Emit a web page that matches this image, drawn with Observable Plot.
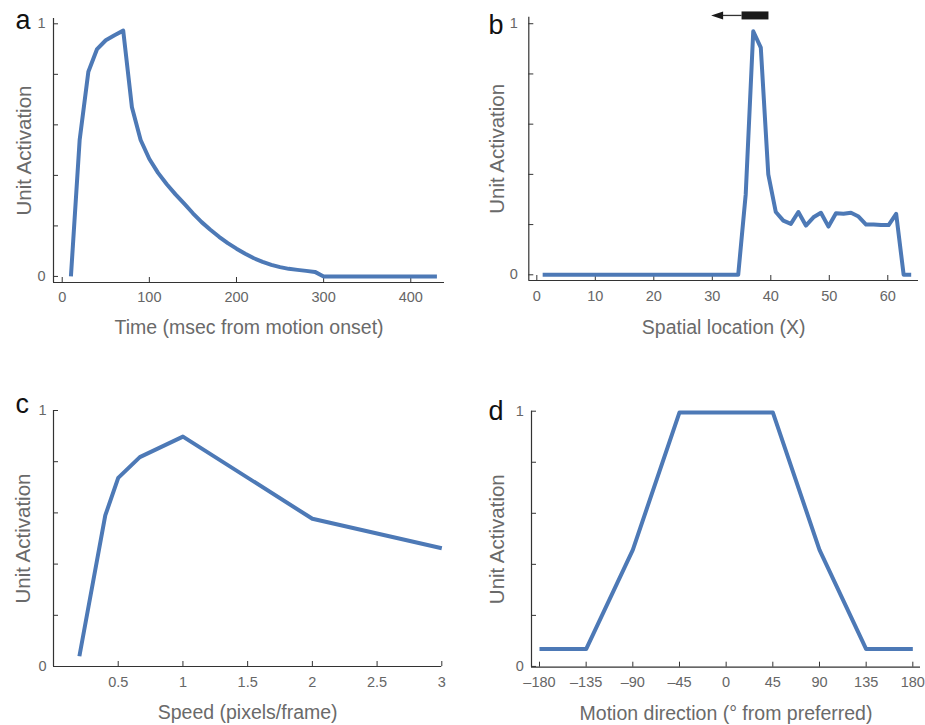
<!DOCTYPE html>
<html><head><meta charset="utf-8">
<script src="https://cdn.jsdelivr.net/npm/d3@7"></script>
<script src="https://cdn.jsdelivr.net/npm/@observablehq/plot@0.6"></script>
<style>
html,body{margin:0;padding:0;background:#fff;}
#fig{position:relative;width:925px;height:725px;overflow:hidden;}
#fig > svg{position:absolute;overflow:visible;}
</style></head><body><div id="fig"></div>
<script>
// ---- Panel a: time course ----
const timeMs = [10,20,30,40,50,60,70,80,90,100,110,120,130,140,150,160,170,180,190,200,210,220,230,240,250,260,270,280,290,300,310,320,330,340,350,360,370,380,390,400,410,420,430];
const timeActivation = [0,0.54,0.81,0.90,0.935,0.955,0.973,0.67,0.54,0.465,0.41,0.365,0.325,0.288,0.25,0.215,0.185,0.157,0.132,0.11,0.09,0.072,0.058,0.046,0.037,0.030,0.026,0.022,0.018,0,0,0,0,0,0,0,0,0,0,0,0,0,0];
const timeTicks = [0,100,200,300,400];

// ---- Panel b: spatial profile ----
const spatialX = [1.00,2.29,3.57,4.86,6.14,7.43,8.71,10.00,11.29,12.57,13.86,15.14,16.43,17.71,19.00,20.29,21.57,22.86,24.14,25.43,26.71,28.00,29.29,30.57,31.86,33.14,34.43,35.71,37.00,38.29,39.57,40.86,42.14,43.43,44.71,46.00,47.29,48.57,49.86,51.14,52.43,53.71,55.00,56.29,57.57,58.86,60.14,61.43,62.71,64.00];
const spatialActivation = [0,0,0,0,0,0,0,0,0,0,0,0,0,0,0,0,0,0,0,0,0,0,0,0,0,0,0,0.32,0.97,0.905,0.40,0.25,0.216,0.203,0.25,0.196,0.229,0.247,0.192,0.245,0.243,0.247,0.232,0.20,0.20,0.198,0.198,0.243,0,0];
const spatialTicks = [0,10,20,30,40,50,60];
const stimulusBar = [35, 39.6];      // moving bar extent (x units)
const stimulusArrowTip = 29.8;       // direction of motion (leftward)

// ---- Panel c: speed tuning ----
const speedValues = [0.2,0.4,0.5,0.667,1,2,3];
const speedActivation = [0.04,0.59,0.737,0.818,0.898,0.577,0.462];
const speedTicks = [0.5,1,1.5,2,2.5,3];

// ---- Panel d: direction tuning ----
const directionDeg = [-180,-135,-90,-45,0,45,90,135,180];
const directionActivation = [0.068,0.068,0.457,0.995,0.995,0.995,0.457,0.068,0.068];
const directionTicks = [-180,-135,-90,-45,0,45,90,135,180];

const activationTicks = [0,0.2,0.4,0.6,0.8,1];

const FONT = '"Helvetica Neue", Helvetica, "Liberation Sans", Arial, sans-serif';
const BLUE = "#4d79b6";
const AXIS = "#333";
const TICK = "#666";
const TITLE = "#6a6a6a";
const LETTER_FS = 27, XL_FS = 19.5, YL_FS = 20.5;

const arrowHead = {
  draw(ctx) { ctx.moveTo(0, 0); ctx.lineTo(12, -4); ctx.lineTo(12, 4); ctx.closePath(); }
};

const fig = document.getElementById("fig");

function panel(c) {
  const [mt, mr, mb, ml] = c.margin;
  const data = c.x.map((d, i) => ({x: d, y: c.y[i]}));
  const svg = Plot.plot({
    width: c.width, height: c.height,
    marginTop: mt, marginRight: mr, marginBottom: mb, marginLeft: ml,
    style: {fontFamily: FONT, fontSize: "14.5px", background: "transparent", overflow: "visible"},
    x: {domain: c.xDomain, axis: null, label: null},
    y: {domain: c.yDomain, axis: null, label: null},
    marks: [
      Plot.ruleX([c.xDomain[0]], {stroke: AXIS, strokeWidth: 1.2}),
      Plot.ruleY([c.yDomain[0]], {stroke: AXIS, strokeWidth: 1.2}),
      Plot.axisX(c.xTicks, {anchor: "bottom", tickSize: -5, tickPadding: 5 + c.xTickGap, tickFormat: c.xFormat, stroke: AXIS, fill: TICK, label: null}),
      Plot.axisY(activationTicks, {anchor: "left", tickSize: -5, tickPadding: 5 + c.yTickGap, tickFormat: d => (d === 0 || d === 1) ? String(d) : "", stroke: AXIS, fill: TICK, label: null}),
      Plot.line(data, {x: "x", y: "y", stroke: BLUE, strokeWidth: 4, strokeLinecap: "butt", strokeLinejoin: "round"}),
      ...(c.extra || []),
      Plot.text([c.letter], {text: d => d, frameAnchor: "top-left", dx: c.letterPos[0] - ml, dy: c.letterPos[1] - mt - 0.32 * LETTER_FS, fontSize: LETTER_FS, fill: "#111", textAnchor: "start", lineAnchor: "middle"}),
      Plot.text([c.xLabel], {text: d => d, frameAnchor: "bottom", dy: c.xLabelBase - 0.32 * XL_FS, fontSize: XL_FS, fill: TITLE, textAnchor: "middle", lineAnchor: "middle"}),
      Plot.text([c.yLabel], {text: d => d, frameAnchor: "left", dx: c.yLabelBase - 0.32 * YL_FS, rotate: -90, fontSize: YL_FS, fill: TITLE, textAnchor: "middle", lineAnchor: "middle"})
    ]
  });
  svg.style.left = c.left + "px";
  svg.style.top = c.top + "px";
  fig.appendChild(svg);
}

const fmtDir = d => d < 0 ? "\u2013" + Math.abs(d) : String(d);

panel({
  left: 0, top: 0, width: 462, height: 345, margin: [18, 18, 63, 53],
  xDomain: [-10, 438.7], yDomain: [-0.024, 1.021],
  xTicks: timeTicks, xFormat: d => String(d),
  x: timeMs, y: timeActivation,
  letter: "a", letterPos: [15, 28.3],
  xLabel: "Time (msec from motion onset)", xLabelBase: 51,
  yLabel: "Unit Activation", yLabelBase: -23,
  xTickGap: 9.5, yTickGap: 8
});

panel({
  left: 460, top: 0, width: 465, height: 345, margin: [16.7, 7, 65, 68.3],
  xDomain: [-1.37, 65.25], yDomain: [-0.0227, 1.026],
  xTicks: spatialTicks, xFormat: d => String(d),
  x: spatialX, y: spatialActivation,
  letter: "b", letterPos: [28, 33.3],
  xLabel: "Spatial location (X)", xLabelBase: 53,
  yLabel: "Unit Activation", yLabelBase: -25,
  xTickGap: 10, yTickGap: 11,
  extra: [
    Plot.link([stimulusBar], {x1: () => stimulusArrowTip + 2, x2: d => d[0], y1: () => 1.033, y2: () => 1.033, stroke: AXIS, strokeWidth: 1.3}),
    Plot.link([stimulusBar], {x1: d => d[0], x2: d => d[1], y1: () => 1.033, y2: () => 1.033, stroke: "#1a1a1a", strokeWidth: 8, strokeLinecap: "butt"}),
    Plot.dot([stimulusArrowTip], {x: d => d, y: () => 1.033, symbol: arrowHead, fill: "#1a1a1a", stroke: "none"})
  ]
});

panel({
  left: 0, top: 380, width: 462, height: 345, margin: [30, 20.7, 59, 53],
  xDomain: [0, 3], yDomain: [0, 1],
  xTicks: speedTicks, xFormat: d => String(d),
  x: speedValues, y: speedActivation,
  letter: "c", letterPos: [15, 32.7],
  xLabel: "Speed (pixels/frame)", xLabelBase: 52,
  yLabel: "Unit Activation", yLabelBase: -24,
  xTickGap: 10.5, yTickGap: 7
});

panel({
  left: 460, top: 380, width: 465, height: 345, margin: [30.7, 5, 58.3, 71],
  xDomain: [-187.7, 187.4], yDomain: [-0.003, 1],
  xTicks: directionTicks, xFormat: fmtDir,
  x: directionDeg, y: directionActivation,
  letter: "d", letterPos: [28, 39.3],
  xLabel: "Motion direction (\u00b0 from preferred)", xLabelBase: 52.3,
  yLabel: "Unit Activation", yLabelBase: -28,
  xTickGap: 10, yTickGap: 7.7
});
</script>
</body></html>
